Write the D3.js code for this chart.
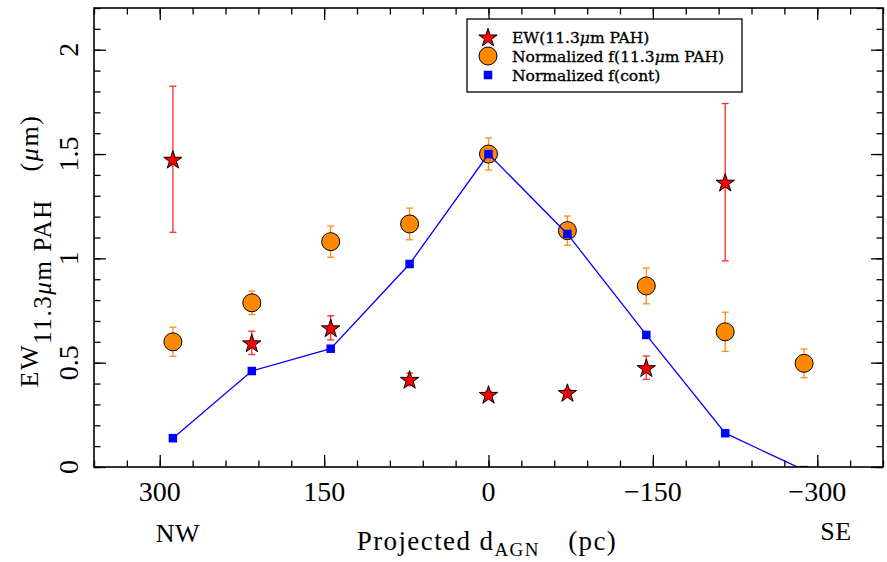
<!DOCTYPE html>
<html>
<head>
<meta charset="utf-8">
<script src="https://cdn.jsdelivr.net/npm/d3@7"></script>
<style>
  html, body { margin: 0; padding: 0; background: #fff; }
  svg { display: block; }
</style>
</head>
<body>
<svg id="chart" width="887" height="562"></svg>
<script>
// ---- data ----
const positions = [288, 216, 144, 72, 0, -72, -144, -216, -288];          // projected d_AGN (pc)
const ewPositions = [288, 216, 144, 72, 0, -72, -144, -216];
const ewValues = [1.475, 0.595, 0.667, 0.42, 0.348, 0.357, 0.476, 1.365];  // EW(11.3um PAH)
const ewErrors = [0.35, 0.056, 0.058, 0.03, 0.015, 0.015, 0.056, 0.377];
const fPahValues = [0.60, 0.787, 1.08, 1.165, 1.50, 1.133, 0.868, 0.648, 0.497]; // normalized f(11.3um PAH)
const fPahErrors = [0.07, 0.056, 0.075, 0.076, 0.077, 0.07, 0.086, 0.094, 0.069];
const fContValues = [0.138, 0.46, 0.567, 0.973, 1.50, 1.117, 0.633, 0.162, -0.015]; // normalized f(cont)
const xMajorTicks = [300, 150, 0, -150, -300];
const xTickLabels = ["300", "150", "0", "\u2212150", "\u2212300"];
const yMajorTicks = [0, 0.5, 1, 1.5, 2];
const yTickLabels = ["0", "0.5", "1", "1.5", "2"];
const legendLabels = ["EW(11.3\u03bcm PAH)", "Normalized f(11.3\u03bcm PAH)", "Normalized f(cont)"];

// ---- layout ----
const svg = d3.select("#chart");
const L = 94, R = 883, T = 8, B = 467;
const x = d3.scaleLinear().domain([360, -360]).range([L, R]);
const y = d3.scaleLinear().domain([0, 2.2]).range([B, T]);
const axisFont = "'Liberation Serif', 'Times New Roman', serif";
const legendFont = "'DejaVu Serif', serif";

svg.append("defs").append("clipPath").attr("id", "plotclip")
  .append("rect").attr("x", L).attr("y", T).attr("width", R - L).attr("height", B - T);

const plot = svg.append("g").attr("clip-path", "url(#plotclip)");

// error bars helper
function errorBars(xs, vs, es, color) {
  const g = plot.append("g").attr("stroke", color).attr("stroke-width", 1.3).attr("fill", "none");
  xs.forEach((p, i) => {
    const cx = x(p), y1 = y(vs[i] + es[i]), y0 = y(vs[i] - es[i]);
    g.append("line").attr("x1", cx).attr("x2", cx).attr("y1", y1).attr("y2", y0);
    g.append("line").attr("x1", cx - 3.5).attr("x2", cx + 3.5).attr("y1", y1).attr("y2", y1);
    g.append("line").attr("x1", cx - 3.5).attr("x2", cx + 3.5).attr("y1", y0).attr("y2", y0);
  });
}

errorBars(positions, fPahValues, fPahErrors, "#ff8c1a");
errorBars(ewPositions, ewValues, ewErrors, "#ff2a2a");

// orange circles
plot.append("g").selectAll("circle").data(positions).join("circle")
  .attr("cx", d => x(d)).attr("cy", (d, i) => y(fPahValues[i])).attr("r", 9)
  .attr("fill", "#ff8800").attr("stroke", "#000").attr("stroke-width", 1);

// blue line + squares
const line = d3.line().x(d => x(d[0])).y(d => y(d[1]));
plot.append("path").datum(positions.map((p, i) => [p, fContValues[i]]))
  .attr("d", line).attr("fill", "none").attr("stroke", "#0000ff").attr("stroke-width", 1.3);
const sq = 8.5;
plot.append("g").selectAll("rect").data(positions).join("rect")
  .attr("x", d => x(d) - sq / 2).attr("y", (d, i) => y(fContValues[i]) - sq / 2)
  .attr("width", sq).attr("height", sq).attr("fill", "#0000ff");

// stars
const star = d3.symbol().type(d3.symbolStar).size(105);
plot.append("g").selectAll("path").data(ewPositions).join("path")
  .attr("d", star).attr("transform", (d, i) => `translate(${x(d)},${y(ewValues[i]) + 1})`)
  .attr("fill", "#ff0000").attr("stroke", "#000").attr("stroke-width", 1);

// ---- axes (ticks inward on all four sides) ----
const xMinor = d3.range(-360, 361, 30);
const yMinor = d3.range(0, 2.201, 0.1);
const tickStyle = g => g.call(s => s.select(".domain").remove())
  .selectAll("line").attr("stroke", "#000").attr("stroke-width", 1.3);

svg.append("g").attr("transform", `translate(0,${B})`)
  .call(d3.axisBottom(x).tickValues(xMinor).tickSize(-6.5).tickFormat("")).call(tickStyle);
svg.append("g").attr("transform", `translate(0,${B})`)
  .call(d3.axisBottom(x).tickValues(xMajorTicks).tickSize(-12).tickFormat("")).call(tickStyle);
svg.append("g").attr("transform", `translate(0,${T})`)
  .call(d3.axisTop(x).tickValues(xMinor).tickSize(-6.5).tickFormat("")).call(tickStyle);
svg.append("g").attr("transform", `translate(0,${T})`)
  .call(d3.axisTop(x).tickValues(xMajorTicks).tickSize(-12).tickFormat("")).call(tickStyle);
svg.append("g").attr("transform", `translate(${L},0)`)
  .call(d3.axisLeft(y).tickValues(yMinor).tickSize(-6.5).tickFormat("")).call(tickStyle);
svg.append("g").attr("transform", `translate(${L},0)`)
  .call(d3.axisLeft(y).tickValues(yMajorTicks).tickSize(-12).tickFormat("")).call(tickStyle);
svg.append("g").attr("transform", `translate(${R},0)`)
  .call(d3.axisRight(y).tickValues(yMinor).tickSize(-6.5).tickFormat("")).call(tickStyle);
svg.append("g").attr("transform", `translate(${R},0)`)
  .call(d3.axisRight(y).tickValues(yMajorTicks).tickSize(-12).tickFormat("")).call(tickStyle);

// frame
svg.append("rect").attr("x", L).attr("y", T).attr("width", R - L).attr("height", B - T)
  .attr("fill", "none").attr("stroke", "#000").attr("stroke-width", 1.6);

// tick labels
svg.append("g").selectAll("text").data(xMajorTicks).join("text")
  .attr("x", d => x(d)).attr("y", 501).attr("text-anchor", "middle")
  .attr("font-family", axisFont).attr("font-size", 28).attr("fill", "#000")
  .text((d, i) => xTickLabels[i]);
svg.append("g").selectAll("text").data(yMajorTicks).join("text")
  .attr("transform", d => `translate(78,${y(d)}) rotate(-90)`).attr("text-anchor", "middle")
  .attr("font-family", axisFont).attr("font-size", 28).attr("fill", "#000")
  .text((d, i) => yTickLabels[i]);

// direction labels
svg.append("text").attr("x", 178).attr("y", 542).attr("text-anchor", "middle")
  .attr("font-family", axisFont).attr("font-size", 26).attr("letter-spacing", 0.5).text("NW");
svg.append("text").attr("x", 836).attr("y", 540).attr("text-anchor", "middle")
  .attr("font-family", axisFont).attr("font-size", 26).attr("letter-spacing", 0.5).text("SE");

// x title
const xt = svg.append("text").attr("x", 487).attr("y", 550).attr("text-anchor", "middle")
  .attr("font-family", axisFont).attr("font-size", 27).attr("letter-spacing", 1.4).attr("fill", "#000");
xt.append("tspan").text("Projected d");
xt.append("tspan").attr("dy", 6).attr("font-size", 19).text("AGN");
xt.append("tspan").attr("dy", -6).text("\u2003(pc)");

// y title
const yt = svg.append("text").attr("transform", "translate(38,251) rotate(-90)")
  .attr("text-anchor", "middle").attr("font-family", axisFont).attr("font-size", 26)
  .attr("letter-spacing", 1.6).attr("fill", "#000");
yt.append("tspan").text("EW");
yt.append("tspan").attr("dy", 13).attr("font-size", 25).text("11.3");
yt.append("tspan").attr("font-size", 25).attr("font-style", "italic").text("\u03bc");
yt.append("tspan").attr("font-size", 25).text("m PAH");
yt.append("tspan").attr("dy", -13).text("\u2003(");
yt.append("tspan").attr("font-style", "italic").text("\u03bc");
yt.append("tspan").text("m)");

// legend
const lg = svg.append("g");
lg.append("rect").attr("x", 467).attr("y", 19).attr("width", 275).attr("height", 73)
  .attr("fill", "#fff").attr("stroke", "#000").attr("stroke-width", 1.3);
const ly = [37, 56, 75];
lg.append("path").attr("d", star).attr("transform", `translate(488,${ly[0] + 1})`)
  .attr("fill", "#ff0000").attr("stroke", "#000").attr("stroke-width", 1);
lg.append("circle").attr("cx", 488).attr("cy", ly[1]).attr("r", 9)
  .attr("fill", "#ff8800").attr("stroke", "#000").attr("stroke-width", 1);
lg.append("rect").attr("x", 488 - sq / 2).attr("y", ly[2] - sq / 2).attr("width", sq).attr("height", sq)
  .attr("fill", "#0000ff");
legendLabels.forEach((t, i) => {
  const tx = lg.append("text").attr("x", 512).attr("y", ly[i] + 5.5)
    .attr("font-family", legendFont).attr("font-size", 15.5).attr("fill", "#000")
    .attr("stroke", "#000").attr("stroke-width", 0.35);
  const parts = t.split("\u03bc");
  tx.append("tspan").text(parts[0]);
  if (parts.length > 1) {
    tx.append("tspan").attr("font-style", "italic").text("\u03bc");
    tx.append("tspan").text(parts[1]);
  }
});
</script>
</body>
</html>
